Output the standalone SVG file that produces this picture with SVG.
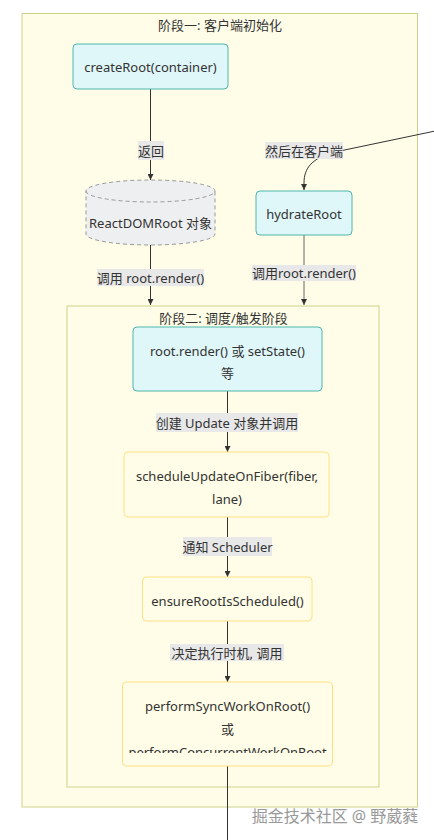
<svg xmlns="http://www.w3.org/2000/svg" width="434" height="840" viewBox="0 0 434 840">
<style>
text{font-family:"Noto Sans","Noto Sans CJK SC",sans-serif;font-size:13px;fill:#333;text-anchor:middle;dominant-baseline:central}
.cluster{fill:#fffde7;stroke:#cdd48a;stroke-width:1}
.cyan{fill:#e0f7fa;stroke:#4db6ac;stroke-width:1}
.yel{fill:#fffde7;stroke:#ffe082;stroke-width:1}
.edge{fill:none;stroke:#333;stroke-width:1}
.lbl{fill:#e8e8e8}
.wm{fill:#999;font-size:16px}
</style>
<defs>
<marker id="arr" viewBox="0 0 10 10" refX="10" refY="5" markerWidth="6" markerHeight="6" orient="auto">
<path d="M0,0 L10,5 L0,10 z" fill="#333"/>
</marker>
<clipPath id="clipPerf"><rect x="122" y="682" width="210" height="71"/></clipPath>
</defs>
<rect width="434" height="840" fill="#fff"/>

<g id="cluster1">
<rect class="cluster" x="22" y="13.5" width="395.5" height="793.5"/>
<text x="220" y="25">阶段一: 客户端初始化</text>
</g>
<g id="cluster2">
<rect class="cluster" x="67" y="306" width="312" height="481"/>
<text x="223.5" y="318">阶段二: 调度/触发阶段</text>
</g>

<g id="edges">
<path class="edge" d="M150.5,89 L150.5,180" marker-end="url(#arr)"/>
<path class="edge" d="M150.5,245 L150.5,305" marker-end="url(#arr)"/>
<path class="edge" d="M440,130 L335,152 C312,158 304,168 304,183 L304,190" marker-end="url(#arr)"/>
<path class="edge" d="M304,235 L304,305" stroke-width="1.8" style="stroke:#666" marker-end="url(#arr)"/>
<path class="edge" d="M227.5,391 L227.5,452" marker-end="url(#arr)"/>
<path class="edge" d="M227.5,517 L227.5,577" marker-end="url(#arr)"/>
<path class="edge" d="M227.5,621 L227.5,682" marker-end="url(#arr)"/>
<path class="edge" d="M227.5,766 L227.5,840"/>
<rect class="lbl" x="138" y="141" width="26" height="19"/>
<text x="151" y="150.5">返回</text>
<rect class="lbl" x="97" y="269" width="107" height="17"/>
<text x="150.5" y="277.5">调用 root.render()</text>
<rect class="lbl" x="265" y="142" width="78" height="17"/>
<text x="304" y="150.5">然后在客户端</text>
<rect class="lbl" x="252" y="265" width="104" height="16"/>
<text x="304" y="273">调用root.render()</text>
<rect class="lbl" x="156" y="413" width="142" height="19"/>
<text x="227" y="423">创建 Update 对象并调用</text>
<rect class="lbl" x="183" y="537" width="89" height="19"/>
<text x="227.5" y="547">通知 Scheduler</text>
<rect class="lbl" x="170" y="644" width="114" height="17"/>
<text x="227" y="652.5">决定执行时机, 调用</text>
</g>

<g id="createRoot">
<rect class="cyan" x="73" y="44" width="155" height="45" rx="4"/>
<text x="150.5" y="67">createRoot(container)</text>
</g>
<g id="reactDOMRoot">
<path d="M86,191 A64.5,11 0 0 0 215,191 A64.5,11 0 0 0 86,191 L86,234 A64.5,11 0 0 0 215,234 L215,191" fill="#eeeff1" stroke="#999" stroke-dasharray="4,3"/>
<text x="150.5" y="222.5">ReactDOMRoot 对象</text>
</g>
<g id="hydrateRoot">
<rect class="cyan" x="256" y="191" width="96" height="44" rx="4"/>
<text x="304" y="213.5">hydrateRoot</text>
</g>
<g id="rootRender">
<rect class="cyan" x="133" y="327" width="189" height="64" rx="4"/>
<text x="227.5" y="351">root.render() 或 setState()</text>
<text x="227.5" y="373">等</text>
</g>
<g id="scheduleUpdate">
<rect class="yel" x="124" y="452" width="205" height="65" rx="4"/>
<text x="227" y="476">scheduleUpdateOnFiber(fiber,</text>
<text x="227" y="499">lane)</text>
</g>
<g id="ensureRoot">
<rect class="yel" x="142.5" y="577" width="169.5" height="44" rx="4"/>
<text x="227.5" y="601">ensureRootIsScheduled()</text>
</g>
<g id="performWork">
<rect class="yel" x="122.5" y="682" width="210" height="84" rx="4"/>
<text x="227.5" y="706">performSyncWorkOnRoot()</text>
<text x="227.5" y="729">或</text>
<text x="227.5" y="752" clip-path="url(#clipPerf)">performConcurrentWorkOnRoot</text>
</g>
<text class="wm" x="335" y="816">掘金技术社区 @ 野葳蕤</text>
</svg>
